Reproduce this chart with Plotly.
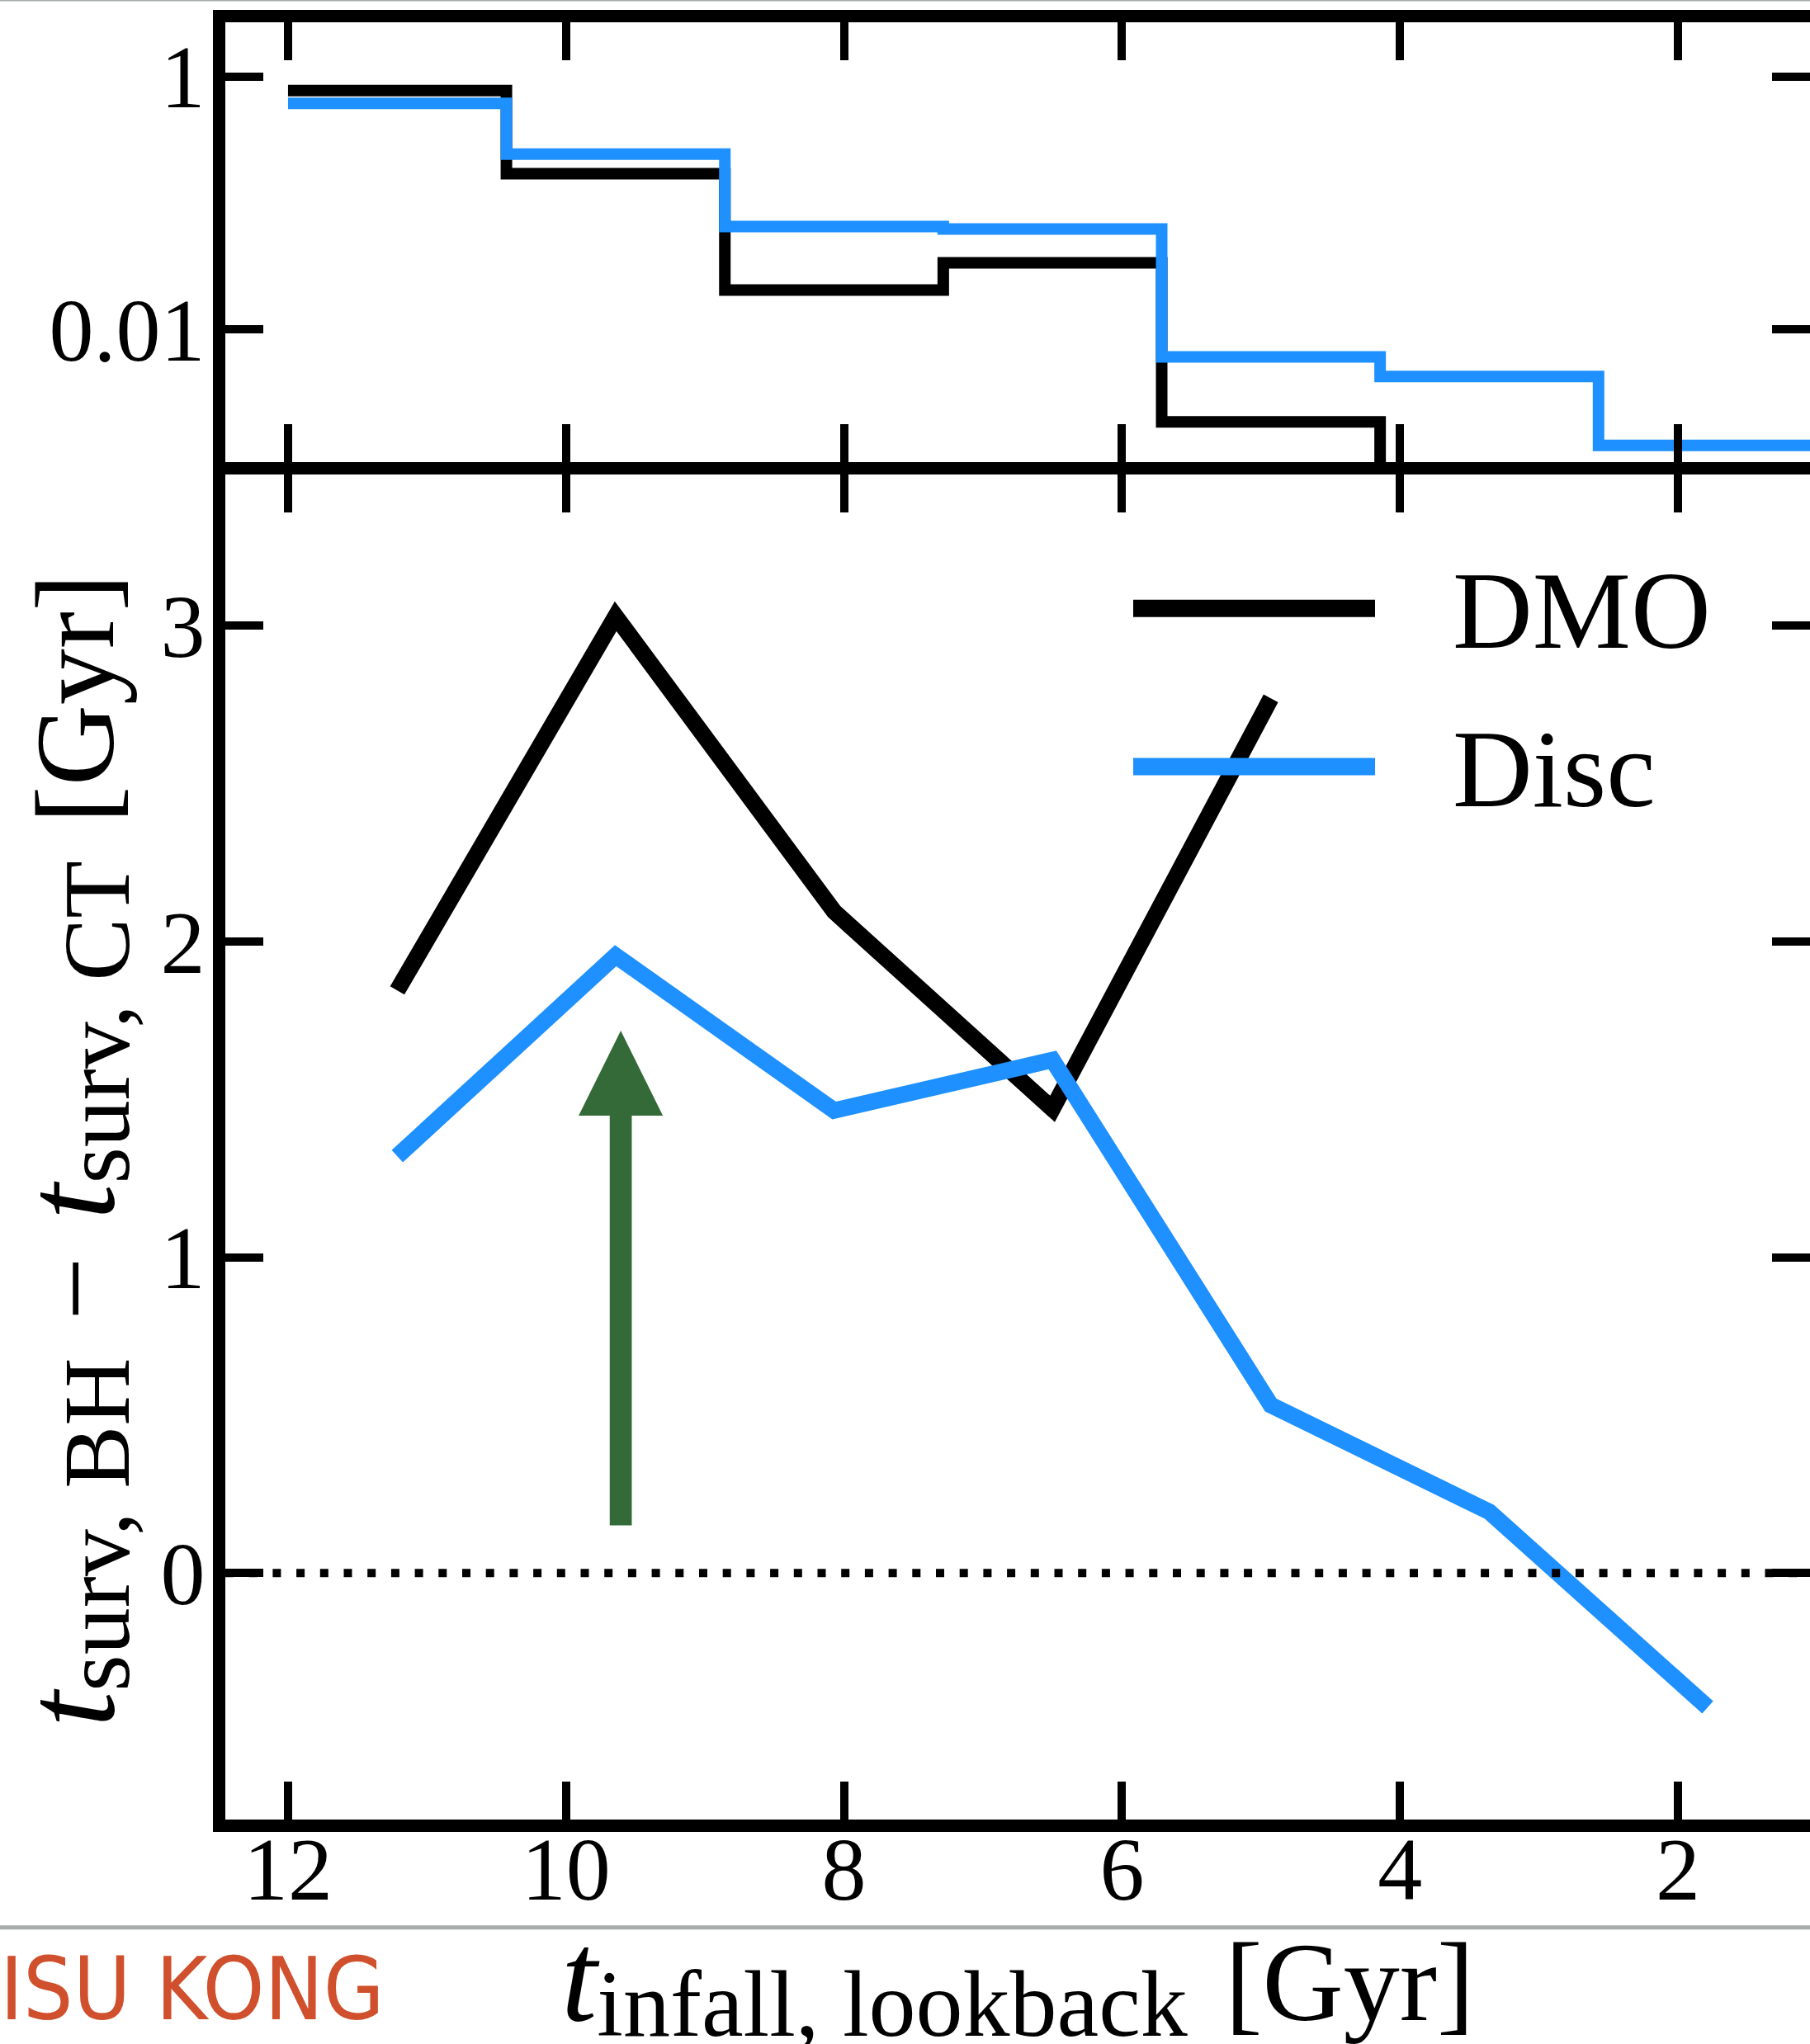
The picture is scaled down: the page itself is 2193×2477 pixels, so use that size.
import plotly.graph_objects as go

# Infall-time bins (lookback time, Gyr): seven equal bins from 12 to 1 Gyr
bin_edges = [12.0, 10.4286, 8.8571, 7.2857, 5.7143, 4.1429, 2.5714, 1.0]
bin_centres = [11.214, 9.643, 8.071, 6.5, 4.929, 3.357, 1.786]

# Upper panel: fraction of subhaloes falling in per bin
frac_dmo = [0.774, 0.170, 0.0204, 0.0334, 0.00184, 0.0, 0.0]
frac_disc = [0.611, 0.243, 0.0648, 0.0620, 0.00603, 0.00421, 0.00120]

# Lower panel: difference in survival time, BH minus CT [Gyr]
dt_dmo = [1.845, 3.03, 2.095, 1.47, 2.77]
dt_disc = [1.32, 1.955, 1.465, 1.625, 0.532, 0.194, -0.425]

series_names = ["DMO", "Disc"]
series_colors = ["#000000", "#1e90ff"]

x_ticks = [12, 10, 8, 6, 4, 2]
y_ticks_lower = [0, 1, 2, 3]
y_ticks_upper = [0.01, 1]
y_ticklabels_upper = ["0.01", "1"]

# Highlight arrow at the infall peak
arrow_x = 9.606
arrow_tail = 0.151
arrow_head_base = 1.4485
arrow_tip = 1.7175
arrow_half_width = 0.303
arrow_color = "#336a37"

serif = "Liberation Serif, Times New Roman, serif"
W, H = 2193, 2477
ML, MR, MT, MB = 273, 0, 27, 272
PW, PH = W - ML - MR, H - MT - MB


def px_to_paper(px, py):
    return (px - ML) / PW, (H - MB - py) / PH


# empty bins cannot be shown on a log axis; send them below the frame
LOG_FLOOR = 1e-6


def step_values(vals):
    v = [val if val > 0 else LOG_FLOOR for val in vals]
    return v + [v[-1]]


fig = go.Figure()

for name, col, frac in zip(series_names, series_colors, [frac_dmo, frac_disc]):
    fig.add_trace(go.Scatter(
        x=bin_edges, y=step_values(frac), mode="lines", name=name,
        line=dict(color=col, width=14, shape="hv"),
        xaxis="x2", yaxis="y2", showlegend=False, hoverinfo="skip"))

fig.add_trace(go.Scatter(
    x=bin_centres[:len(dt_dmo)], y=dt_dmo, mode="lines", name=series_names[0],
    line=dict(color=series_colors[0], width=20), showlegend=False))
fig.add_trace(go.Scatter(
    x=bin_centres[:len(dt_disc)], y=dt_disc, mode="lines", name=series_names[1],
    line=dict(color=series_colors[1], width=20), showlegend=False))

axis_common = dict(
    showline=True, linewidth=15, linecolor="black", mirror="ticks",
    ticks="inside", ticklen=46, tickwidth=10, tickcolor="black",
    showgrid=False, zeroline=False, automargin=False,
    tickfont=dict(family=serif, size=108, color="black"),
)

top_bottom_px = 560
low_top_px = 575
top_dom0 = (H - MB - top_bottom_px) / PH
low_dom1 = (H - MB - low_top_px) / PH

fig.update_layout(
    width=W, height=H,
    margin=dict(l=ML, r=MR, t=MT, b=MB),
    paper_bgcolor="white", plot_bgcolor="white",
    showlegend=False,
    xaxis=dict(axis_common, domain=[0, 1], range=[12.451, 1.050],
               tickvals=x_ticks, anchor="y", ticklabelstandoff=-48),
    yaxis=dict(axis_common, domain=[0, low_dom1], range=[-0.7805, 3.479],
               tickvals=y_ticks_lower, anchor="x", ticklabelstandoff=-12),
    xaxis2=dict(axis_common, domain=[0, 1], range=[12.451, 1.050],
                tickvals=x_ticks, showticklabels=False, anchor="y2",
                matches="x"),
    yaxis2=dict(axis_common, domain=[top_dom0, 1], type="log",
                range=[-3.053, 0.4285], tickvals=y_ticks_upper,
                ticktext=y_ticklabels_upper, anchor="x2",
                ticklabelstandoff=-12),
)

shapes = []
# zero reference line
shapes.append(dict(type="line", xref="x domain", yref="y", x0=0, x1=1,
                   y0=0, y1=0, layer="above",
                   line=dict(color="black", width=10, dash="10px,18.7px")))
# arrow shaft and head
shapes.append(dict(type="line", xref="x", yref="y", x0=arrow_x, x1=arrow_x,
                   y0=arrow_tail, y1=arrow_head_base,
                   line=dict(color=arrow_color, width=26.7)))
shapes.append(dict(
    type="path", xref="x", yref="y", fillcolor=arrow_color,
    line=dict(width=0),
    path=(f"M{arrow_x - arrow_half_width},{arrow_head_base} "
          f"L{arrow_x},{arrow_tip} L{arrow_x + arrow_half_width},{arrow_head_base} Z")))

# legend keys
legend_rows_py = [737.3, 929.0]
lx0, _ = px_to_paper(1373, 0)
lx1, _ = px_to_paper(1666, 0)
tx, _ = px_to_paper(1758, 0)
annotations = []
for name, col, py in zip(series_names, series_colors, legend_rows_py):
    _, ly = px_to_paper(0, py)
    shapes.append(dict(type="line", xref="paper", yref="paper",
                       x0=lx0, x1=lx1, y0=ly, y1=ly,
                       line=dict(color=col, width=21)))
    _, ty = px_to_paper(0, py + 3)
    annotations.append(dict(text=name, xref="paper", yref="paper", x=tx, y=ty,
                            xanchor="left", yanchor="middle", showarrow=False,
                            font=dict(family=serif, size=134, color="black")))

# thin grey rules of the page
gx0, gy_top = px_to_paper(0, 0.5)
_, gy_low = px_to_paper(0, 2335.8)
shapes.append(dict(type="line", xref="paper", yref="paper", x0=gx0, x1=1,
                   y0=gy_top, y1=gy_top, line=dict(color="#a8acac", width=2)))
shapes.append(dict(type="line", xref="paper", yref="paper", x0=gx0, x1=1,
                   y0=gy_low, y1=gy_low, line=dict(color="#a8acac", width=5)))

GAP = " \u200a"  # word space plus a hair space, as in the math layout


def math_t(sub):
    # italic t with an upright, slightly lowered subscript
    return ("<span style='font-size:156px'><i>t</i></span>"
            f"<span style='font-size:114px;baseline-shift:-19px'>{sub}</span>")


# axis titles
xt_x, xt_y = px_to_paper(1233, 2400)
annotations.append(dict(
    text=math_t("infall, lookback") + GAP + "[Gyr]",
    xref="paper", yref="paper", x=xt_x, y=xt_y, xanchor="center",
    yanchor="middle", showarrow=False,
    font=dict(family=serif, size=136, color="black")))
yt_x, yt_y = px_to_paper(89, 1395)
annotations.append(dict(
    text=(math_t("surv, BH") + GAP + "\u2212" + "\u200a " + math_t("surv, CT")
          + GAP + "[Gyr]"),
    xref="paper", yref="paper", x=yt_x, y=yt_y, xanchor="center",
    yanchor="middle", textangle=-90, showarrow=False,
    font=dict(family=serif, size=136, color="black")))

# footer name
fx, fy = px_to_paper(-2, 2410)
annotations.append(dict(
    text="ISU KONG", xref="paper", yref="paper", x=fx, y=fy,
    xanchor="left", yanchor="middle", showarrow=False,
    font=dict(family="DejaVu Sans Condensed, DejaVu Sans, sans-serif",
              size=106, color="#d0502d")))

fig.update_layout(shapes=shapes, annotations=annotations)
fig.write_html("out.html")
